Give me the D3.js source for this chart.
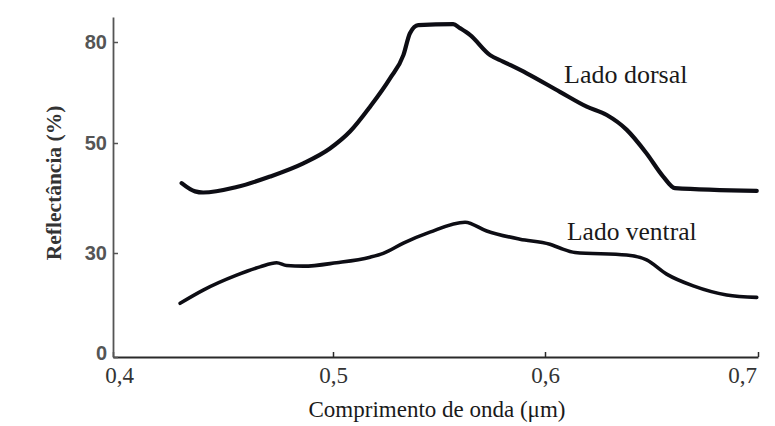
<!DOCTYPE html>
<html>
<head>
<meta charset="utf-8">
<script src="https://cdn.jsdelivr.net/npm/d3@7"></script>
<style>
    body { margin: 0; background: #fff; }
    svg { display: block; }
</style>
</head>
<body>
<svg width="775" height="426"></svg>
<script>
// wavelengths (um) and reflectance (%)
var dorsalX = [0.4312, 0.4373, 0.4410, 0.4562, 0.4714, 0.4865, 0.4986, 0.5080, 0.5175, 0.5269,
               0.5332, 0.5363, 0.5402, 0.5567, 0.5599, 0.5646, 0.5741, 0.5802, 0.5914, 0.6070,
               0.6196, 0.6290, 0.6384, 0.6477, 0.6555, 0.6610, 0.6994];
var dorsalY = [42.7, 41.2, 41.0, 42.0, 43.9, 46.3, 49.0, 53.4, 60.8, 69.2,
               76.1, 82.6, 85.0, 85.3, 84.1, 82.1, 76.1, 74.2, 70.7, 65.2,
               60.8, 58.3, 53.9, 48.1, 43.9, 41.8, 41.3];

var ventralX = [0.4305, 0.4410, 0.4562, 0.4668, 0.4744, 0.4789, 0.4865, 0.5017, 0.5175, 0.5237,
                0.5332, 0.5457, 0.5623, 0.5725, 0.5882, 0.6023, 0.6070, 0.6141, 0.6383, 0.6477,
                0.6571, 0.6696, 0.6853, 0.6994];
var ventralY = [15.5, 19.3, 23.6, 26.0, 27.2, 26.4, 26.2, 27.2, 28.8, 29.9,
                31.8, 33.8, 35.6, 34.0, 32.5, 31.6, 30.9, 30.1, 29.4, 28.0,
                23.9, 20.5, 17.9, 17.2];

var xTicks = [0.4, 0.5, 0.6, 0.7];
var yTicks = [0, 30, 50, 80];

var svg = d3.select("svg");

// the printed axes are not evenly spaced, so both scales are piecewise
var x = d3.scaleLinear()
    .domain([0.4, 0.5, 0.6, 0.7])
    .range([113, 333, 545, 758]);

var y = d3.scaleLinear()
    .domain([0, 30, 50, 80, 87.4])
    .range([357, 253, 143, 42, 17]);

var fmt = function(d) { return d3.format(".1f")(d).replace(".", ","); };

// x axis
var gx = svg.append("g")
    .attr("transform", "translate(0," + y(0) + ")")
    .call(d3.axisBottom(x).tickValues(xTicks).tickSize(-5).tickSizeOuter(0).tickPadding(10).tickFormat(fmt));
gx.select(".domain").attr("stroke", "#2a2a2a").attr("stroke-width", 1.8);
gx.selectAll(".tick line").attr("stroke", "#2a2a2a").attr("stroke-width", 1.5);
gx.selectAll(".tick text")
    .attr("fill", "#333")
    .style("font-family", "'Liberation Serif', 'Times New Roman', serif")
    .style("font-size", "23px");
gx.selectAll(".tick").filter(function(d) { return d == 0.4; }).select("text").attr("dx", 6);
gx.selectAll(".tick").filter(function(d) { return d == 0.7; }).select("text").attr("dx", -16);

// y axis
var gy = svg.append("g")
    .attr("transform", "translate(" + x(0.4) + ",0)")
    .call(d3.axisLeft(y).tickValues(yTicks).tickSize(-5).tickSizeOuter(0).tickPadding(6));
gy.select(".domain").attr("stroke", "#555").attr("stroke-width", 1.8);
gy.selectAll(".tick line").attr("stroke", "#555").attr("stroke-width", 1.5);
gy.selectAll(".tick text")
    .attr("fill", "#555")
    .style("font-family", "'Liberation Sans', Arial, sans-serif")
    .style("font-weight", "bold")
    .style("font-size", "20px");
gy.selectAll(".tick").filter(function(d) { return d == 0; }).select("text").attr("dy", "0.1em");

// axis titles
svg.append("text")
    .attr("x", 437)
    .attr("y", 417)
    .attr("text-anchor", "middle")
    .attr("fill", "#1a1a1a")
    .style("font-family", "'Liberation Serif', 'Times New Roman', serif")
    .style("font-size", "23px")
    .text("Comprimento de onda (μm)");

svg.append("text")
    .attr("transform", "translate(61,183) rotate(-90)")
    .attr("text-anchor", "middle")
    .attr("fill", "#333")
    .style("font-family", "'Liberation Serif', 'Times New Roman', serif")
    .style("font-weight", "bold")
    .style("font-size", "21.5px")
    .text("Reflectância (%)");

// curves
var line = d3.line()
    .x(function(d) { return x(d[0]); })
    .y(function(d) { return y(d[1]); })
    .curve(d3.curveMonotoneX);

var dorsal = d3.zip(dorsalX, dorsalY);
var ventral = d3.zip(ventralX, ventralY);

svg.append("path")
    .datum(dorsal)
    .attr("fill", "none")
    .attr("stroke", "#0d0d14")
    .attr("stroke-width", 4.2)
    .attr("stroke-linejoin", "round")
    .attr("stroke-linecap", "round")
    .attr("d", line);

svg.append("path")
    .datum(ventral)
    .attr("fill", "none")
    .attr("stroke", "#0d0d14")
    .attr("stroke-width", 3.6)
    .attr("stroke-linejoin", "round")
    .attr("stroke-linecap", "round")
    .attr("d", line);

// series labels
svg.append("text")
    .attr("x", 564)
    .attr("y", 83)
    .attr("fill", "#1a1a1a")
    .style("font-family", "'Liberation Serif', 'Times New Roman', serif")
    .style("font-size", "26px")
    .text("Lado dorsal");

svg.append("text")
    .attr("x", 567)
    .attr("y", 240)
    .attr("fill", "#1a1a1a")
    .style("font-family", "'Liberation Serif', 'Times New Roman', serif")
    .style("font-size", "25.5px")
    .text("Lado ventral");
</script>
</body>
</html>
